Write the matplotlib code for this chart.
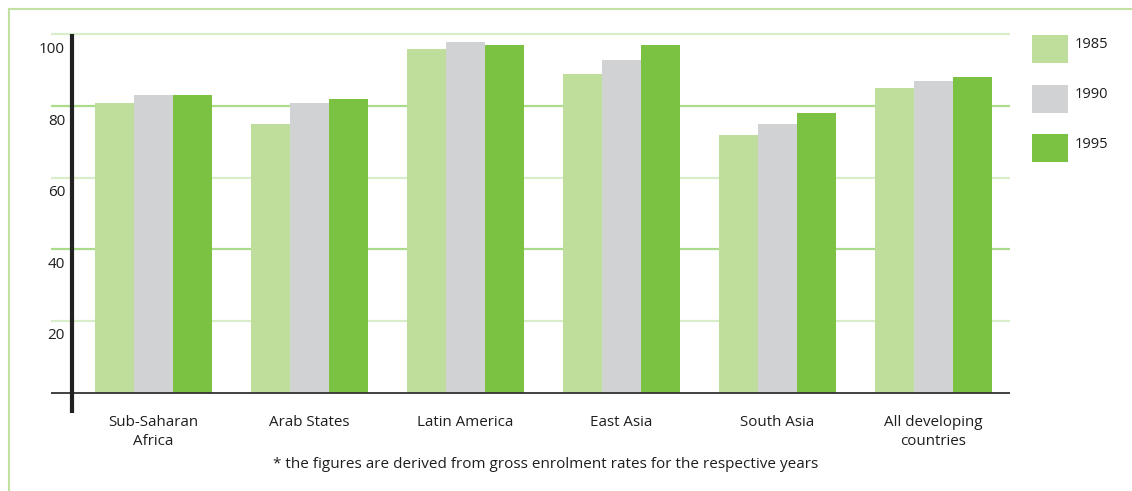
import matplotlib.pyplot as plt
from matplotlib.patches import Rectangle
from matplotlib.lines import Line2D
import numpy as np

regions = ["Sub-Saharan\nAfrica", "Arab States", "Latin America", "East Asia",
           "South Asia", "All developing\ncountries"]
years = ["1985", "1990", "1995"]
vals_1985 = [81, 75, 96, 89, 72, 85]
vals_1990 = [83, 81, 98, 93, 75, 87]
vals_1995 = [83, 82, 97, 97, 78, 88]
yticks = [20, 40, 60, 80, 100]

colors = ["#bfdd9b", "#d1d2d4", "#7cc242"]
grid_strong = "#addb8c"
grid_pale = "#d9edc9"

plt.rcParams['font.family'] = ['Open Sans', 'DejaVu Sans']

fig = plt.figure(figsize=(11.32, 4.91), dpi=100)
W, H = 1132, 491

# axes spans pixel x 51..1010; y range -6..101
ax = fig.add_axes([51 / W, (491 - 414) / H, (1010 - 51) / W, (414 - 30.9) / H])
ax.set_xlim(-0.657, 5.49)
ax.set_ylim(-6, 101)
ax.axis('off')

# gridlines alternate strong/pale green
for t in yticks:
    c = grid_strong if t in (40, 80) else grid_pale
    ax.axhline(t, color=c, lw=1.6, zorder=0)
    ax.text(-0.567, t - 4.2, str(t), ha='right', va='center', fontsize=11,
            color='#1e1e1e')

x = np.arange(len(regions))
w = 0.25
for i, v in enumerate([vals_1985, vals_1990, vals_1995]):
    ax.bar(x + (i - 1) * w, v, width=w, color=colors[i], zorder=2, linewidth=0)

# axis lines
ax.axhline(0, color='#333333', lw=1.3, zorder=3)
ax.plot([-0.522, -0.522], [-5.8, 100], color='#222222', lw=3, zorder=4,
        solid_capstyle='butt')

for xi, lab in zip(x, regions):
    ax.text(xi, -6.4, lab, ha='center', va='top', fontsize=10.9, color='#1e1e1e',
            linespacing=1.3)

fig.text(546 / W, 1 - 464 / H,
         "* the figures are derived from gross enrolment rates for the respective years",
         ha='center', va='center', fontsize=11, color='#1e1e1e')

# legend boxes
for i, yr in enumerate(years):
    top = 35 + i * 49.5
    fig.add_artist(Rectangle((1032 / W, 1 - (top + 28) / H), 36 / W, 28 / H,
                             transform=fig.transFigure, color=colors[i], lw=0))
    fig.text(1075 / W, 1 - (top + 10) / H, yr, ha='left', va='center',
             fontsize=10.5, color='#1e1e1e')

# outer frame (top and left)
fig.add_artist(Line2D([9 / W, 1], [1 - 9 / H, 1 - 9 / H], transform=fig.transFigure,
                      color='#c2e0a2', lw=1.5))
fig.add_artist(Line2D([9 / W, 9 / W], [0, 1 - 9 / H], transform=fig.transFigure,
                      color='#c2e0a2', lw=1.5))

fig.savefig('out.png', dpi=100)
